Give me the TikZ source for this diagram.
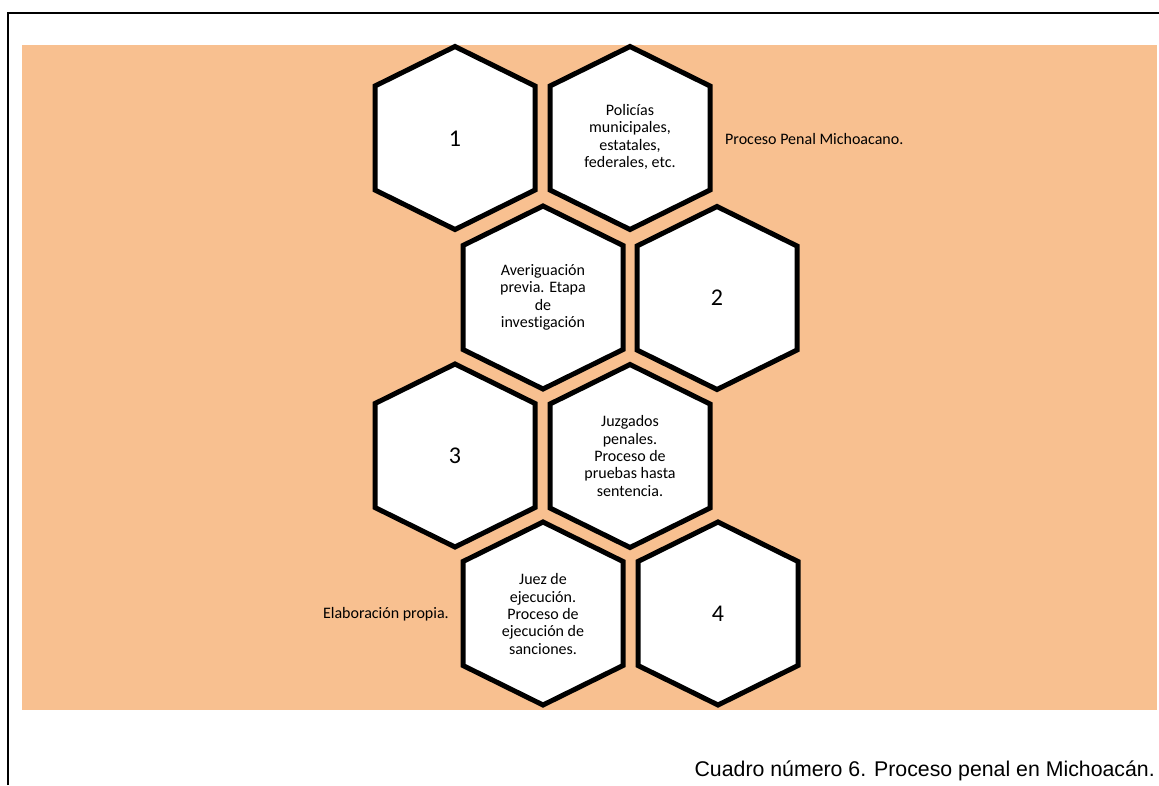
\documentclass[tikz,border=0pt]{standalone}
\usepackage{fontspec}
\setmainfont{Carlito}[Ligatures={NoCommon}]
\newfontfamily\capfont{Liberation Sans}
\definecolor{panelorange}{RGB}{248,192,144}
\tikzset{
  hexline/.style={draw=black, line width=5pt, fill=white, line join=miter},
  cellnum/.style={align=center, font=\fontsize{24}{28}\selectfont},
  celltext/.style={align=center, font=\fontsize{16}{17.4}\selectfont, inner sep=0pt},
  sidenote/.style={font=\fontsize{16}{19}\selectfont, inner sep=0pt},
  pics/hexcell/.style={code={
    \path[hexline] (0,-91.5) -- (80,-52) -- (80,52) -- (0,91.5) -- (-80,52) -- (-80,-52) -- cycle;
  }}
}
\begin{document}
\begin{tikzpicture}[x=1pt, y=-1pt]
  \useasboundingbox (0,0) rectangle (1159,785);
  % page frame (top and left rules)
  \draw[line width=2pt] (8,785) -- (8,13) -- (1159,13);
  % orange panel
  \fill[panelorange] (22,45) rectangle (1157,710);

  % hexagonal cells
  \pic at (455,138) {hexcell};
  \pic at (630,138) {hexcell};
  \pic at (543,297.5) {hexcell};
  \pic at (717,298) {hexcell};
  \pic at (455,455.5) {hexcell};
  \pic at (630,456) {hexcell};
  \pic at (543,613.5) {hexcell};
  \pic at (718,613.5) {hexcell};

  % cell contents
  \node[cellnum] (n1) at (455,139) {1};
  \node[celltext] (t1) at (630,137) {Policías\\municipales,\\estatales,\\federales, etc.};
  \node[celltext] (t2) at (543,297.5) {Averiguación\\previa. Etapa\\de\\investigación};
  \node[cellnum] (n2) at (717,298) {2};
  \node[cellnum] (n3) at (455,456) {3};
  \node[celltext] (t3) at (630,456) {Juzgados\\penales.\\Proceso de\\pruebas hasta\\sentencia.};
  \node[celltext] (t4) at (543,614) {Juez de\\ejecución.\\Proceso de\\ejecución de\\sanciones.};
  \node[cellnum] (n4) at (718,614) {4};

  % side notes
  \node[sidenote, anchor=base west] (title) at (725,144) {Proceso Penal Michoacano.};
  \node[sidenote, anchor=base east] (source) at (449,618) {Elaboración propia.};

  % caption
  \node[anchor=base east, inner sep=0pt, font=\capfont\fontsize{21.3}{25}\selectfont] (caption) at (1155,776) {Cuadro número 6. Proceso penal en Michoacán.};
\end{tikzpicture}
\end{document}
